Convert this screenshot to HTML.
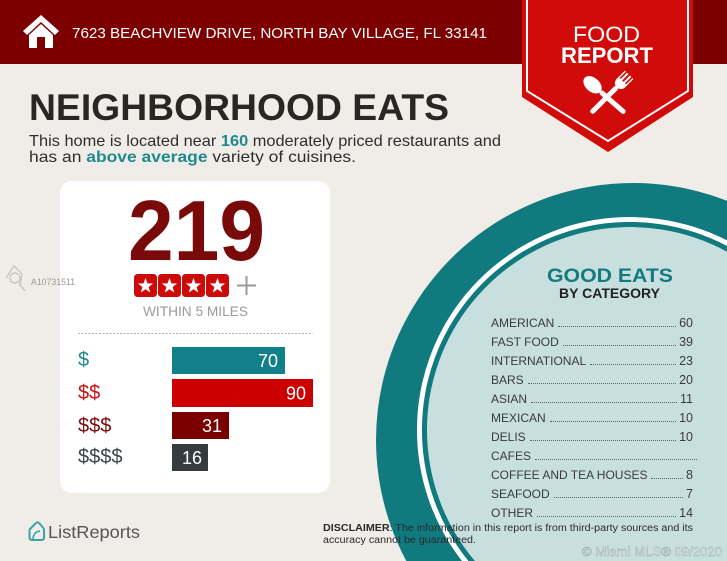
<!DOCTYPE html>
<html>
<head>
<meta charset="utf-8">
<style>
  html,body{margin:0;padding:0;background:#f0ece8;overflow:hidden;}
  #wrap{position:relative;width:727px;height:561px;overflow:hidden;background:#f0ece8;font-family:"Liberation Sans",sans-serif;}
  svg{position:absolute;left:0;top:0;}
  #list{position:absolute;left:491px;top:314px;width:202px;font-family:"Liberation Sans",sans-serif;font-size:12px;color:#3a3a3a;}
  .row{display:flex;height:19.03px;line-height:19.03px;white-space:nowrap;}
  .row .f{flex:1;align-self:flex-end;margin:0 3px 6px 4px;border-bottom:1px dotted #5a6464;height:0;}
  .row .n{font-size:12.5px;}
  .row.nf .f{margin-right:-4px;}
</style>
</head>
<body>
<div id="wrap">
<svg width="727" height="561" viewBox="0 0 727 561" xmlns="http://www.w3.org/2000/svg">
  <!-- background -->
  <rect x="0" y="0" width="727" height="561" fill="#f0ece8"/>
  <!-- header band -->
  <rect x="0" y="0" width="727" height="64" fill="#7c0000"/>
  <!-- house icon -->
  <polygon points="41,15 59,31 55,35 41,22 27,35 23,31" fill="#ffffff"/>
  <polygon points="41,24 53,35 53,48 29,48 29,35" fill="#ffffff"/>
  <rect x="37" y="37" width="8" height="11" fill="#7c0000"/>
  <text x="72" y="38" font-family="Liberation Sans, sans-serif" font-size="15" fill="#ffffff" textLength="415" lengthAdjust="spacingAndGlyphs">7623 BEACHVIEW DRIVE, NORTH BAY VILLAGE, FL 33141</text>

  <!-- banner -->
  <path d="M522,0 L693,0 L693,97 L608,152 L522,97 Z" fill="#d10a0a"/>
  <path d="M527,0 L527,91 L608,141 L688,91 L688,0" fill="none" stroke="#ffffff" stroke-width="2"/>
  <text x="573" y="42" font-family="Liberation Sans, sans-serif" font-size="22" fill="#ffffff" textLength="67" lengthAdjust="spacingAndGlyphs">FOOD</text>
  <text x="561" y="63" font-family="Liberation Sans, sans-serif" font-size="22" font-weight="bold" fill="#ffffff" textLength="92" lengthAdjust="spacingAndGlyphs">REPORT</text>
  <!-- spoon -->
  <g transform="translate(625,113) rotate(-49)" fill="#ffffff">
    <rect x="-2.5" y="-33" width="5" height="33" rx="2.5"/>
    <ellipse cx="0" cy="-43" rx="7" ry="10.5"/>
  </g>
  <!-- fork -->
  <g transform="translate(591,113) rotate(45)" fill="#ffffff">
    <rect x="-2.5" y="-37" width="5" height="37" rx="2.5"/>
    <path d="M-6,-54 L-6,-43 Q-6,-37 0,-36 Q6,-37 6,-43 L6,-54 L4.6,-54 L4.6,-45 L3,-45 L3,-54 L1,-54 L1,-45 L-1,-45 L-1,-54 L-3,-54 L-3,-45 L-4.6,-45 L-4.6,-54 Z"/>
  </g>

  <!-- title -->
  <text x="29" y="120" font-family="Liberation Sans, sans-serif" font-size="37" font-weight="bold" fill="#2a2624" textLength="420" lengthAdjust="spacingAndGlyphs">NEIGHBORHOOD EATS</text>
  <text x="29" y="146" font-family="Liberation Sans, sans-serif" font-size="16" fill="#2e2e2e" textLength="472" lengthAdjust="spacingAndGlyphs">This home is located near <tspan font-weight="bold" fill="#1f8a8e">160</tspan> moderately priced restaurants and</text>
  <text x="29" y="162" font-family="Liberation Sans, sans-serif" font-size="16" fill="#2e2e2e" textLength="327" lengthAdjust="spacingAndGlyphs">has an <tspan font-weight="bold" fill="#1f8a8e">above average</tspan> variety of cuisines.</text>

  <!-- circle rings (clipped to frame as paths) -->
  <path d="M406.3,561 A257,257 0 0 1 727,200.8 L727,561 Z" fill="#107a7e"/>
  <path d="M462,561 A213,213 0 0 1 727,240.4 L727,561 Z" fill="#ffffff"/>
  <path d="M468.4,561 A208,208 0 0 1 727,246 L727,561 Z" fill="#107a7e"/>
  <path d="M474.9,561 A203,203 0 0 1 727,251.7 L727,561 Z" fill="#c7e0df"/>

  <text x="547" y="282" font-family="Liberation Sans, sans-serif" font-size="19" font-weight="bold" fill="#157a7e" textLength="126" lengthAdjust="spacingAndGlyphs">GOOD EATS</text>
  <text x="559" y="298" font-family="Liberation Sans, sans-serif" font-size="13.5" font-weight="bold" fill="#222222" textLength="101" lengthAdjust="spacingAndGlyphs">BY CATEGORY</text>

  <!-- card -->
  <rect x="60" y="181" width="270" height="312" rx="12" fill="#ffffff"/>
  <text x="128" y="260" font-family="Liberation Sans, sans-serif" font-size="85" font-weight="bold" fill="#7a0a0a" textLength="137" lengthAdjust="spacingAndGlyphs">219</text>
  <!-- stars -->
  <g>
    <rect x="134" y="274" width="23" height="23" rx="3.5" fill="#cc0a0a"/>
    <rect x="158" y="274" width="23" height="23" rx="3.5" fill="#cc0a0a"/>
    <rect x="182" y="274" width="23" height="23" rx="3.5" fill="#cc0a0a"/>
    <rect x="206" y="274" width="23" height="23" rx="3.5" fill="#cc0a0a"/>
    <g fill="#ffffff">
      <polygon transform="translate(145.5,286)" points="0,-8 1.94,-2.67 7.61,-2.47 3.14,1.02 4.7,6.47 0,3.3 -4.7,6.47 -3.14,1.02 -7.61,-2.47 -1.94,-2.67"/>
      <polygon transform="translate(169.5,286)" points="0,-8 1.94,-2.67 7.61,-2.47 3.14,1.02 4.7,6.47 0,3.3 -4.7,6.47 -3.14,1.02 -7.61,-2.47 -1.94,-2.67"/>
      <polygon transform="translate(193.5,286)" points="0,-8 1.94,-2.67 7.61,-2.47 3.14,1.02 4.7,6.47 0,3.3 -4.7,6.47 -3.14,1.02 -7.61,-2.47 -1.94,-2.67"/>
      <polygon transform="translate(217.5,286)" points="0,-8 1.94,-2.67 7.61,-2.47 3.14,1.02 4.7,6.47 0,3.3 -4.7,6.47 -3.14,1.02 -7.61,-2.47 -1.94,-2.67"/>
    </g>
    <line x1="237" y1="285.5" x2="256" y2="285.5" stroke="#9a9a9a" stroke-width="2"/>
    <line x1="246.5" y1="276" x2="246.5" y2="295" stroke="#9a9a9a" stroke-width="2"/>
  </g>
  <text x="143" y="316" font-family="Liberation Sans, sans-serif" font-size="13.5" fill="#9a9a9a" textLength="105" lengthAdjust="spacingAndGlyphs">WITHIN 5 MILES</text>
  <line x1="78" y1="333.5" x2="313" y2="333.5" stroke="#b0b0b0" stroke-width="1" stroke-dasharray="2,1.5"/>

  <!-- bars -->
  <rect x="172" y="347" width="113" height="27" fill="#12808a"/>
  <rect x="172" y="379" width="141" height="28" fill="#cc0000"/>
  <rect x="172" y="412" width="57" height="27" fill="#7a0000"/>
  <rect x="172" y="444" width="36" height="27" fill="#343c40"/>
  <g font-family="Liberation Sans, sans-serif" font-size="18" fill="#ffffff" text-anchor="end">
    <text x="278" y="367">70</text>
    <text x="306" y="399.5">90</text>
    <text x="222" y="432">31</text>
    <text x="202" y="464">16</text>
  </g>
  <g font-family="Liberation Sans, sans-serif" font-size="20">
    <text x="78" y="366" fill="#1a8a8e">$</text>
    <text x="78" y="399" fill="#cc1111">$$</text>
    <text x="78" y="432" fill="#7a0a0a">$$$</text>
    <text x="78" y="463" fill="#3a4448">$$$$</text>
  </g>

  <!-- watermark -->
  <g fill="none" stroke="#c4c0bc" stroke-width="1.2">
    <path d="M6,278 L14,266 L22,274 L20,286"/>
    <circle cx="15" cy="278" r="5"/>
    <line x1="19" y1="283" x2="25" y2="291"/>
  </g>
  <text x="31" y="285" font-family="Liberation Sans, sans-serif" font-size="9" fill="#9a9a9a" textLength="44" lengthAdjust="spacingAndGlyphs">A10731511</text>

  <!-- ListReports logo -->
  <path d="M30,529 L36,523 Q37.5,521.8 39,523 L43,527.5 Q44,528.6 44,530.5 L44,537.5 Q44,540 41.5,540 L32,540 Q29.5,540 29.5,537.5 L29.5,531 Q29.5,529.8 30,529 Z" fill="none" stroke="#3aa3a8" stroke-width="2"/>
  <path d="M33,540 Q33,532 40,531" fill="none" stroke="#3aa3a8" stroke-width="1.6"/>
  <text x="48" y="538" font-family="Liberation Sans, sans-serif" font-size="17.5" fill="#555555" textLength="92" lengthAdjust="spacingAndGlyphs">ListReports</text>

  <!-- disclaimer -->
  <text x="323" y="531" font-family="Liberation Sans, sans-serif" font-size="10" fill="#2a2a2a" textLength="370" lengthAdjust="spacingAndGlyphs"><tspan font-weight="bold">DISCLAIMER</tspan>: The information in this report is from third-party sources and its</text>
  <text x="323" y="543" font-family="Liberation Sans, sans-serif" font-size="10" fill="#2a2a2a" textLength="153" lengthAdjust="spacingAndGlyphs">accuracy cannot be guaranteed.</text>

  <text x="582" y="556" font-family="Liberation Sans, sans-serif" font-size="13" fill="#eef2f2" stroke="#8fa0a0" stroke-width="0.4" textLength="140" lengthAdjust="spacingAndGlyphs">© Miami MLS® 09/2020</text>
</svg>

<div id="list">
  <div class="row"><span>AMERICAN</span><span class="f"></span><span class="n">60</span></div>
  <div class="row"><span>FAST FOOD</span><span class="f"></span><span class="n">39</span></div>
  <div class="row"><span>INTERNATIONAL</span><span class="f"></span><span class="n">23</span></div>
  <div class="row"><span>BARS</span><span class="f"></span><span class="n">20</span></div>
  <div class="row"><span>ASIAN</span><span class="f"></span><span class="n">11</span></div>
  <div class="row"><span>MEXICAN</span><span class="f"></span><span class="n">10</span></div>
  <div class="row"><span>DELIS</span><span class="f"></span><span class="n">10</span></div>
  <div class="row nf"><span>CAFES</span><span class="f"></span></div>
  <div class="row"><span>COFFEE AND TEA HOUSES</span><span class="f"></span><span class="n">8</span></div>
  <div class="row"><span>SEAFOOD</span><span class="f"></span><span class="n">7</span></div>
  <div class="row"><span>OTHER</span><span class="f"></span><span class="n">14</span></div>
</div>
</div>
</body>
</html>
